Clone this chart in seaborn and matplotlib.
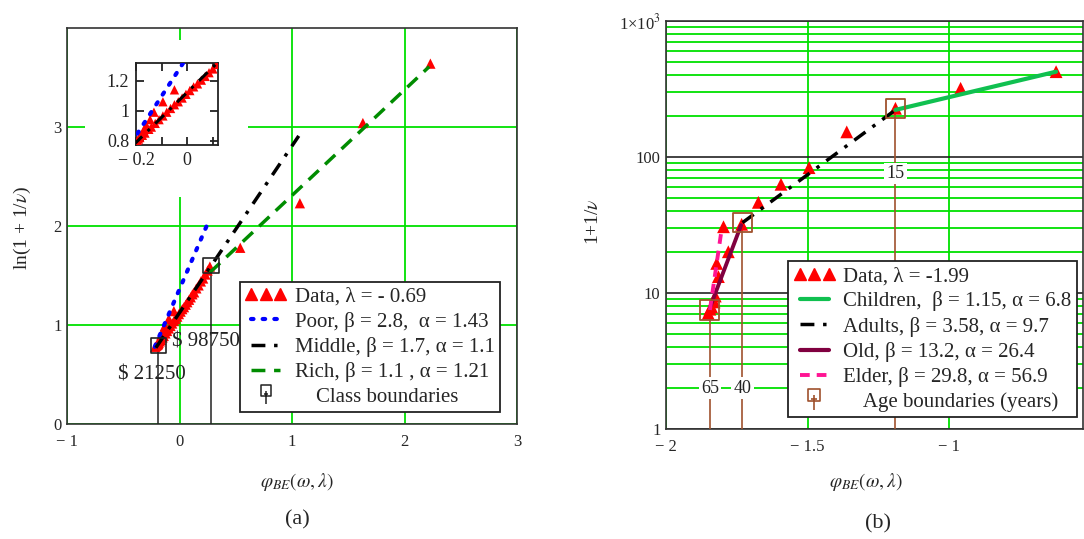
import numpy as np
import pandas as pd
import matplotlib
matplotlib.use("Agg")
import matplotlib.pyplot as plt
import seaborn as sns
from matplotlib.lines import Line2D
from matplotlib.patches import Rectangle
from matplotlib.legend_handler import HandlerLine2D
from matplotlib.path import Path
import matplotlib.ticker as mticker

# ---------------- Panel (a) data ----------------
a_data_x = [-0.215, -0.205, -0.195, -0.185, -0.175, -0.165, -0.15, -0.14, -0.125, -0.11,
            -0.095, -0.08, -0.065, -0.05, -0.035, -0.02, -0.005, 0.01, 0.025, 0.04,
            0.055, 0.07, 0.085, 0.10, 0.115, 0.13, 0.15, 0.17, 0.19, 0.21, 0.23, 0.25, 0.27,
            -0.19, -0.18, -0.17, -0.16, -0.145, -0.13, -0.095, -0.05,
            0.54, 1.07, 1.63, 2.23]
a_data_y = [0.78, 0.79, 0.80, 0.82, 0.835, 0.85, 0.875, 0.89, 0.915, 0.94,
            0.965, 0.99, 1.015, 1.04, 1.06, 1.085, 1.11, 1.135, 1.16, 1.18,
            1.205, 1.23, 1.255, 1.28, 1.31, 1.33, 1.37, 1.40, 1.44, 1.47, 1.51, 1.55, 1.59,
            0.81, 0.84, 0.87, 0.90, 0.94, 0.99, 1.06, 1.14,
            1.78, 2.23, 3.04, 3.64]
a_poor_x = [-0.22, 0.26]
a_poor_y = [0.78, 2.05]
a_mid_x = [-0.21, 1.06]
a_mid_y = [0.77, 2.91]
a_rich_x = [0.27, 2.22]
a_rich_y = [1.53, 3.61]
a_bound_x = [-0.19, 0.28]
a_bound_y = [0.79, 1.60]
a_bound_labels = ["$ 21250", "$ 98750"]
a_bound_label_x = [-0.55, -0.065]
a_bound_label_y = [0.49, 0.83]
a_legend_labels = ["Data, λ = - 0.69", "Poor, β = 2.8,  α = 1.43",
                   "Middle, β = 1.7, α = 1.1", "Rich, β = 1.1 , α = 1.21",
                   "    Class boundaries"]
a_xticks = [-1, 0, 1, 2, 3]
a_xticklabels = ["\u2212 1", "0", "1", "2", "3"]
a_yticks = [0, 1, 2, 3]
a_inset_yticks = [0.8, 1.0, 1.2]
a_inset_yticklabels = ["0.8", "1", "1.2"]
a_inset_xticks = [-0.2, -0.1, 0.0, 0.1]
a_inset_xticklabels = ["\u2212 0.2", "", "0", ""]

# ---------------- Panel (b) data ----------------
b_data_x = [-1.851, -1.845, -1.839, -1.830, -1.826, -1.815, -1.821, -1.780, -1.797,
            -1.733, -1.674, -1.594, -1.495, -1.362, -1.19, -0.96, -0.623]
b_data_y = [7.1, 7.6, 7.9, 8.6, 9.5, 13.2, 16.5, 20.1, 30.7,
            32.0, 46.4, 63.0, 83.5, 153.0, 228.0, 320.0, 424.0]
b_child_x = [-1.19, -0.623]
b_child_y = [222.0, 424.0]
b_adult_x = [-1.73, -1.19]
b_adult_y = [32.9, 222.0]
b_old_x = [-1.845, -1.735]
b_old_y = [7.8, 31.5]
b_elder_x = [-1.845, -1.803]
b_elder_y = [7.5, 30.0]
b_bound_x = [-1.845, -1.73, -1.19]
b_bound_y = [7.5, 32.9, 228.0]
b_bound_labels = ["65", "40", "15"]
b_bound_label_y = [2.0, 2.0, 76.0]
b_legend_labels = ["Data, λ = -1.99", "Children,  β = 1.15, α = 6.8",
                   "Adults, β = 3.58, α = 9.7", "Old, β = 13.2, α = 26.4",
                   "Elder, β = 29.8, α = 56.9", "    Age boundaries (years)"]
b_yticks = [1, 10, 100, 1000]
b_yticklabels = ["1", "10", "100", r"1×10$^{3}$"]
b_xticks = [-2, -1.5, -1]
b_xticklabels = ["\u2212 2", "\u2212 1.5", "\u2212 1"]

# ---------------- style ----------------
sns.set_theme(style="white")
plt.rcParams["font.family"] = ["Liberation Serif", "DejaVu Serif"]
plt.rcParams["mathtext.fontset"] = "stix"
plt.rcParams["axes.unicode_minus"] = True

GRID_G = "#00e000"
RED = "#ff0000"
BLUE = "#0000ff"
GREEN_D = "#008c00"
GREEN_C = "#10c050"
MAROON = "#800040"
PINK = "#ff1493"
BROWN = "#a0522d"

# boundary symbol: square with a stem and small bar (Mathcad style)
BOUND_MARK = Path(
    [(-1, -0.2), (1, -0.2), (1, 1.8), (-1, 1.8), (-1, -0.2),
     (0, 0.8), (0, -1.6),
     (-0.45, 0.1), (0.45, 0.1)],
    [Path.MOVETO, Path.LINETO, Path.LINETO, Path.LINETO, Path.CLOSEPOLY,
     Path.MOVETO, Path.LINETO,
     Path.MOVETO, Path.LINETO])

W, H = 1084, 539
fig = plt.figure(figsize=(W / 100, H / 100), dpi=100)


def fbox(l, t, r, b):
    return [l / W, 1 - b / H, (r - l) / W, (b - t) / H]


def seg(ax_, xs, ys, **kw):
    d = pd.DataFrame({"x": xs, "y": ys})
    sns.lineplot(data=d, x="x", y="y", ax=ax_, sort=False, estimator=None, **kw)


# ================= Panel (a) =================
ax = fig.add_axes(fbox(67, 28, 517, 424))
ax.set_xlim(-1, 3)
ax.set_ylim(0, 4)
ax.set_xticks(a_xticks)
ax.set_yticks(a_yticks)
ax.set_xticklabels(a_xticklabels)
ax.set_yticklabels([str(v) for v in a_yticks])
ax.tick_params(axis="x", length=0, labelsize=12, pad=7)
ax.tick_params(axis="y", length=0, labelsize=12, pad=4)
ax.grid(True, color=GRID_G, lw=1.3)
ax.set_axisbelow(True)
for s in ax.spines.values():
    s.set_color("#333333")
    s.set_linewidth(1.2)

df_a = pd.DataFrame({"x": a_data_x, "y": a_data_y})
sns.scatterplot(data=df_a, x="x", y="y", marker="^", s=55, color=RED,
                edgecolor="none", ax=ax, zorder=4)

seg(ax, a_poor_x, a_poor_y, color=BLUE, lw=3, linestyle=(0, (0.6, 2.2)),
    dash_capstyle="round", zorder=5)
seg(ax, a_mid_x, a_mid_y, color="black", lw=2.5, linestyle=(0, (4, 2.5, 1, 2.5)), zorder=5)
seg(ax, a_rich_x, a_rich_y, color=GREEN_D, lw=2.5, linestyle=(0, (4, 2.5)), zorder=5)

ax.vlines(a_bound_x, 0, a_bound_y, color="#222222", lw=1.1, zorder=3)
sns.scatterplot(x=a_bound_x, y=a_bound_y, marker="s", s=120, facecolor="none",
                edgecolor="#222222", linewidth=1.2, ax=ax, zorder=6)
for lx, ly, lt in zip(a_bound_label_x, a_bound_label_y, a_bound_labels):
    ax.text(lx, ly, lt, fontsize=15, ha="left", va="center", color="#222222", zorder=7)

ax.set_xlabel("")
ax.set_ylabel("")

# white area behind inset
ax.add_patch(Rectangle((0.04, 0.573), 0.362, 0.397, transform=ax.transAxes,
                       facecolor="white", edgecolor="none", zorder=2.5))

leg_a_handles = [
    Line2D([], [], marker="^", color=RED, linestyle="none", markersize=8),
    Line2D([], [], color=BLUE, lw=3, linestyle=(0, (0.6, 2.2)), dash_capstyle="round"),
    Line2D([], [], color="black", lw=2.5, linestyle=(0, (4, 2.5, 1, 2.5))),
    Line2D([], [], color=GREEN_D, lw=2.5, linestyle=(0, (4, 2.5))),
    Line2D([], [], marker=BOUND_MARK, color="#222222", mfc="none", linestyle="none",
           markersize=14, markeredgewidth=1.1),
]
leg = ax.legend(leg_a_handles, a_legend_labels, loc="lower left",
                bbox_to_anchor=(0.384, 0.03), borderaxespad=0, fontsize=15,
                handlelength=2.0, handletextpad=0.4, labelspacing=0.25,
                borderpad=0.25, frameon=True, fancybox=False, framealpha=1,
                edgecolor="#222222", numpoints=3,
                handler_map={leg_a_handles[4]: HandlerLine2D(numpoints=1)})
leg.get_frame().set_linewidth(1.3)
leg.set_zorder(10)

# inset
axi = fig.add_axes(fbox(136, 63, 218, 145))
axi.set_xlim(-0.2, 0.12)
axi.set_ylim(0.77, 1.32)
sns.scatterplot(data=df_a, x="x", y="y", marker="^", s=45, color=RED,
                edgecolor="none", ax=axi, zorder=4)
seg(axi, a_poor_x, a_poor_y, color=BLUE, lw=3, linestyle=(0, (0.6, 2.2)),
    dash_capstyle="round", zorder=5)
seg(axi, a_mid_x, a_mid_y, color="black", lw=2.2, linestyle=(0, (4, 2.5, 1, 2.5)), zorder=5)
axi.set_xticks(a_inset_xticks)
axi.set_xticklabels(a_inset_xticklabels)
axi.set_yticks(a_inset_yticks)
axi.set_yticklabels(a_inset_yticklabels)
axi.tick_params(direction="in", length=6, width=1.3, labelsize=13, top=True, right=True,
                bottom=True, left=True, pad=5, colors="#222222")
axi.set_xlabel("")
axi.set_ylabel("")
for s in axi.spines.values():
    s.set_color("#222222")
    s.set_linewidth(1.3)

# ================= Panel (b) =================
bx = fig.add_axes(fbox(666, 21, 1083, 429))
bx.set_yscale("log")
bx.set_xlim(-2, -0.528)
bx.set_ylim(1, 1000)
bx.yaxis.set_major_locator(mticker.FixedLocator(b_yticks))
bx.yaxis.set_minor_locator(mticker.LogLocator(base=10, subs=np.arange(2, 10)))
bx.yaxis.set_minor_formatter(mticker.NullFormatter())
bx.set_yticklabels(b_yticklabels)
bx.set_xticks(b_xticks)
bx.set_xticklabels(b_xticklabels)
bx.tick_params(axis="x", which="both", length=0, labelsize=12, pad=7)
bx.tick_params(axis="y", which="both", length=0, labelsize=12, pad=4)
bx.yaxis.grid(True, which="minor", color=GRID_G, lw=1.3)
bx.yaxis.grid(True, which="major", color="#222222", lw=1.2)
bx.xaxis.grid(True, which="major", color=GRID_G, lw=1.3)
bx.set_axisbelow(True)
for s in bx.spines.values():
    s.set_color("#333333")
    s.set_linewidth(1.2)

bx.vlines(b_bound_x, 1, b_bound_y, color=BROWN, lw=1.2, zorder=3)
for bxx, by, bt in zip(b_bound_x, b_bound_label_y, b_bound_labels):
    bx.text(bxx, by, bt, fontsize=13, ha="center", va="center", color="#222222", zorder=4,
            bbox=dict(facecolor="white", edgecolor="none", pad=1.5))

df_b = pd.DataFrame({"x": b_data_x, "y": b_data_y})
sns.scatterplot(data=df_b, x="x", y="y", marker="^", s=85, color=RED,
                edgecolor="none", ax=bx, zorder=4)
seg(bx, b_child_x, b_child_y, color=GREEN_C, lw=3, zorder=5)
seg(bx, b_adult_x, b_adult_y, color="black", lw=2.5, linestyle=(0, (4, 2.5, 1, 2.5)), zorder=5)
seg(bx, b_old_x, b_old_y, color=MAROON, lw=2.8, zorder=5)
seg(bx, b_elder_x, b_elder_y, color=PINK, lw=2.8, linestyle=(0, (2.5, 1.8)), zorder=6)
sns.scatterplot(x=b_bound_x, y=b_bound_y, marker="s", s=190, facecolor="none",
                edgecolor=BROWN, linewidth=1.3, ax=bx, zorder=6)
bx.set_xlabel("")
bx.set_ylabel("")

leg_b_handles = [
    Line2D([], [], marker="^", color=RED, linestyle="none", markersize=9),
    Line2D([], [], color=GREEN_C, lw=3),
    Line2D([], [], color="black", lw=2.5, linestyle=(0, (4, 2.5, 1, 2.5))),
    Line2D([], [], color=MAROON, lw=3),
    Line2D([], [], color=PINK, lw=2.8, linestyle=(0, (2.5, 1.8))),
    Line2D([], [], marker=BOUND_MARK, color=BROWN, mfc="none", linestyle="none",
           markersize=16, markeredgewidth=1.2),
]
legb = bx.legend(leg_b_handles, b_legend_labels, loc="lower left",
                 bbox_to_anchor=(0.293, 0.029), borderaxespad=0, fontsize=15,
                 handlelength=2.0, handletextpad=0.4, labelspacing=0.25,
                 borderpad=0.25, frameon=True, fancybox=False, framealpha=1,
                 edgecolor="#222222", numpoints=3,
                 handler_map={leg_b_handles[5]: HandlerLine2D(numpoints=1)})
legb.get_frame().set_linewidth(1.3)
legb.set_zorder(10)

# ---------------- axis labels / captions ----------------
fig.text(22 / W, 1 - 228 / H, "ln(1 + 1/$\\nu$)", rotation=90, fontsize=14,
         ha="center", va="center")
fig.text(297 / W, 1 - 482 / H, r"$\varphi_{BE}(\omega,\lambda)$", fontsize=14,
         ha="center", va="center")
fig.text(297 / W, 1 - 520 / H, "(a)", fontsize=16, ha="center", va="center")
fig.text(594 / W, 1 - 222 / H, "1+1/$\\nu$", rotation=90, fontsize=14,
         ha="center", va="center")
fig.text(866 / W, 1 - 482 / H, r"$\varphi_{BE}(\omega,\lambda)$", fontsize=14,
         ha="center", va="center")
fig.text(878 / W, 1 - 524 / H, "(b)", fontsize=16, ha="center", va="center")

fig.savefig("out.png", dpi=100, facecolor="white")
